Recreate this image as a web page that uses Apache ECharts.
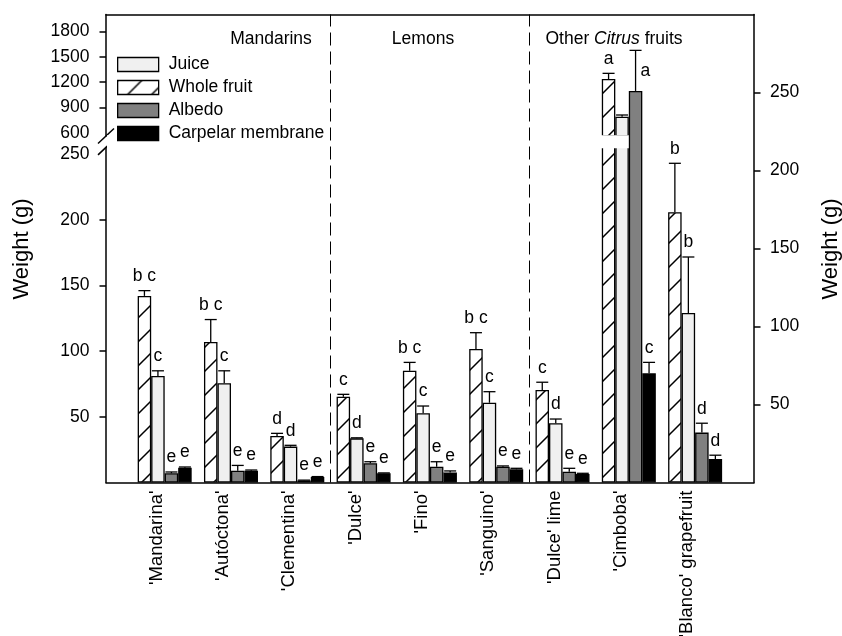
<!DOCTYPE html>
<html>
<head>
<meta charset="utf-8">
<script src="https://cdn.jsdelivr.net/npm/echarts@6/dist/echarts.min.js"></script>
<style>
  html, body { margin: 0; padding: 0; background: #fff; }
  #chart { width: 842px; height: 636px; }
</style>
</head>
<body>
<div id="chart"></div>
<script>
// ---- data ---------------------------------------------------------------
const categories = ["'Mandarina'", "'Autóctona'", "'Clementina'", "'Dulce'", "'Fino'",
  "'Sanguino'", "'Dulce' lime", "'Cimboba'", "'Blanco' grapefruit"];
const groupNames = ['Mandarins', 'Lemons', 'Other Citrus fruits'];
const groupStarts = [0, 3, 6];

const wholeFruit    = [142, 107, 35.4, 65.3, 85, 101.6, 70.4, 1238, 205.6];
const wholeFruitErr = [4, 17, 2, 1.8, 6.4, 12.4, 5.9, 67, 37.3];
const wholeFruitLetters = ['b c', 'b c', 'd', 'c', 'b c', 'b c', 'c', 'a', 'b'];

const juice    = [81, 75.5, 27.3, 33.6, 52.7, 60.7, 45.1, 793, 129];
const juiceErr = [4, 9.5, 1, 0.4, 5.5, 8.4, 3.2, 20, 42.6];
const juiceLetters = ['c', 'c', 'd', 'd', 'c', 'c', 'd', '', 'b'];

const albedo    = [7, 9, 1.5, 14.6, 12, 12, 6.9, 251, 32];
const albedoErr = [1, 4, 0.3, 1.2, 3.8, 0.6, 2.2, 26, 6];
const albedoLetters = ['e', 'e', 'e', 'e', 'e', 'e', 'e', 'a', 'd'];

const membrane    = [11.3, 9, 4.2, 7, 7.7, 10, 5.4, 70, 15];
const membraneErr = [0.5, 0.5, 0.3, 0.3, 1.1, 0.8, 0.5, 7, 2.5];
const membraneLetters = ['e', 'e', 'e', 'e', 'e', 'e', 'e', 'c', 'd'];

// which y scale each value belongs to: L = left (broken) axis, R = right axis
const wholeFruitScale = ['L', 'L', 'L', 'L', 'L', 'L', 'L', 'L', 'L'];
const juiceScale      = ['L', 'L', 'L', 'L', 'L', 'L', 'L', 'L', 'L'];
const albedoScale     = ['L', 'L', 'L', 'L', 'L', 'L', 'R', 'R', 'R'];
const membraneScale   = ['L', 'L', 'L', 'L', 'L', 'L', 'R', 'R', 'R'];

// letters printed beside the whisker instead of above it
const albedoLetterBeside = [7];

const leftLowerLabels = [50, 100, 150, 200, 250];
const leftLowerTicks  = [50, 100, 150, 200];
const leftUpperLabels = [600, 900, 1200, 1500, 1800];
const leftUpperTicks  = [900, 1200, 1500, 1800];
const rightLabels     = [50, 100, 150, 200, 250];

// ---- layout -------------------------------------------------------------
const FONT = 'Liberation Sans, Arial, Helvetica, sans-serif';
const FS = 17.5;
const BAR_W = 13.5;
const CAP_W = 12;
const X_MIN = -0.885, X_MAX = 8.888;
const LOWER_MAX = 255, UPPER_MIN = 565, UPPER_MAX = 2000, RIGHT_MAX = 300;

const CHART_W = 842, CHART_H = 636;
const PLOT_L = 106, PLOT_R = 754, PLOT_T = 14.5, PLOT_B = 482.5;
const LOWER_TOP = 147.4, UPPER_BOTTOM = 136;

function hatchCanvas() {
  const P = 24;
  const c = document.createElement('canvas');
  c.width = P; c.height = P;
  const g = c.getContext('2d');
  g.fillStyle = '#fff';
  g.fillRect(0, 0, P, P);
  g.strokeStyle = '#000';
  g.lineWidth = 1.5;
  g.beginPath();
  g.moveTo(-2, P + 2); g.lineTo(P + 2, -2);
  g.moveTo(-2, 2); g.lineTo(2, -2);
  g.moveTo(P - 2, P + 2); g.lineTo(P + 2, P - 2);
  g.stroke();
  return c;
}

const measures = [
  { name: 'Whole fruit', values: wholeFruit, err: wholeFruitErr, letters: wholeFruitLetters,
    scale: wholeFruitScale, beside: [], fill: { image: hatchCanvas(), repeat: 'repeat' } },
  { name: 'Juice', values: juice, err: juiceErr, letters: juiceLetters,
    scale: juiceScale, beside: [], fill: '#f0f0f0' },
  { name: 'Albedo', values: albedo, err: albedoErr, letters: albedoLetters,
    scale: albedoScale, beside: albedoLetterBeside, fill: '#808080' },
  { name: 'Carpelar membrane', values: membrane, err: membraneErr, letters: membraneLetters,
    scale: membraneScale, beside: [], fill: '#000' }
];

// three panels: lower left segment, upper left segment, full-height right scale
// (right-scale bars sit above the break band, left-scale bars below it)
const panels = [
  { side: 'L', z: 2, keepBar: v => true,          keepErr: v => v <= LOWER_MAX },
  { side: 'L', z: 2, keepBar: v => v > UPPER_MIN, keepErr: v => v > UPPER_MIN },
  { side: 'R', z: 4, keepBar: v => true,          keepErr: v => true }
];

const axisLine = { show: true, onZero: false, lineStyle: { color: '#000', width: 1.5 } };
const labelStyle = { color: '#000', fontSize: FS, fontFamily: FONT };
const plainNumber = v => String(v);

const series = [];
panels.forEach((p, gi) => {
  measures.forEach(m => {
    const data = [];
    m.values.forEach((v, i) => {
      if (m.scale[i] === p.side && p.keepBar(v)) data.push([i, v]);
    });
    series.push({
      type: 'bar', name: m.name, xAxisIndex: gi, yAxisIndex: gi, z: p.z,
      data: data, barWidth: BAR_W, barGap: '0%', clip: true,
      itemStyle: { color: m.fill, borderColor: '#000', borderWidth: 1.3 },
      emphasis: { disabled: true }, silent: true
    });
  });

  const items = [];
  measures.forEach((m, k) => {
    m.values.forEach((v, i) => {
      if (m.scale[i] === p.side && p.keepErr(v)) {
        items.push({ k: k, i: i, v: v, e: m.err[i], letter: m.letters[i],
          beside: m.beside.indexOf(i) >= 0 });
      }
    });
  });
  const errSeries = {
    type: 'custom', xAxisIndex: gi, yAxisIndex: gi, silent: true, clip: false, z: 5,
    data: items.map(d => [d.i, d.v, d.e, d.k]),
    encode: { x: 0, y: 1 },
    renderItem: function (params, api) {
      const d = items[params.dataIndex];
      const base = api.coord([d.i, d.v]);
      const top = api.coord([d.i, d.v + d.e]);
      const x = base[0] + (d.k - 1.5) * BAR_W;
      const ls = { stroke: '#000', lineWidth: 1.3 };
      const children = [
        { type: 'line', shape: { x1: x, y1: base[1], x2: x, y2: top[1] }, style: ls },
        { type: 'line', shape: { x1: x - CAP_W / 2, y1: top[1], x2: x + CAP_W / 2, y2: top[1] }, style: ls }
      ];
      if (d.letter) {
        if (d.beside) {
          children.push({ type: 'text', x: x + 5, y: top[1] + 21,
            style: { text: d.letter, fill: '#000', fontSize: FS, fontFamily: FONT,
              align: 'left', verticalAlign: 'middle' } });
        } else {
          children.push({ type: 'text', x: x, y: top[1] - 5.5,
            style: { text: d.letter, fill: '#000', fontSize: FS, fontFamily: FONT,
              align: 'center', verticalAlign: 'bottom' } });
        }
      }
      return { type: 'group', children: children };
    }
  };
  if (gi === 2) {
    // dashed dividers between the fruit groups
    errSeries.markLine = {
      silent: true, symbol: 'none', label: { show: false }, z: 6,
      lineStyle: { color: '#000', width: 1, type: [13, 6] },
      data: groupStarts.slice(1).map(s => ({ xAxis: s - 0.5 }))
    };
  }
  series.push(errSeries);
});

const option = {
  animation: false,
  backgroundColor: '#fff',
  textStyle: { fontFamily: FONT },
  grid: [
    { left: PLOT_L, right: CHART_W - PLOT_R, top: LOWER_TOP, bottom: CHART_H - PLOT_B,
      outerBoundsMode: 'none', containLabel: false },
    { left: PLOT_L, right: CHART_W - PLOT_R, top: PLOT_T, height: UPPER_BOTTOM - PLOT_T,
      outerBoundsMode: 'none', containLabel: false },
    { left: PLOT_L, right: CHART_W - PLOT_R, top: PLOT_T, bottom: CHART_H - PLOT_B,
      outerBoundsMode: 'none', containLabel: false }
  ],
  xAxis: [
    { gridIndex: 0, type: 'value', min: X_MIN, max: X_MAX, position: 'bottom',
      axisLine: axisLine, axisTick: { show: false }, splitLine: { show: false },
      axisLabel: { customValues: categories.map((_, i) => i),
        formatter: v => '{c|' + categories[Math.round(v)] + '}', rotate: 90, margin: 8,
        rich: { c: { color: '#000', fontSize: 18.5, fontFamily: FONT, padding: [0, 0, 16, 0] } } } },
    { gridIndex: 1, type: 'value', min: X_MIN, max: X_MAX, position: 'top',
      axisLine: axisLine, axisTick: { show: false }, splitLine: { show: false },
      axisLabel: { show: false } },
    { gridIndex: 2, type: 'value', min: X_MIN, max: X_MAX, show: false, splitLine: { show: false } }
  ],
  yAxis: [
    { gridIndex: 0, type: 'value', min: 0, max: LOWER_MAX, position: 'left',
      axisLine: axisLine, splitLine: { show: false },
      axisTick: { show: true, customValues: leftLowerTicks, length: 6.5, lineStyle: { color: '#000', width: 1.5 } },
      axisLabel: Object.assign({ customValues: leftLowerLabels, margin: 16.5, formatter: plainNumber }, labelStyle) },
    { gridIndex: 1, type: 'value', min: UPPER_MIN, max: UPPER_MAX, position: 'left',
      axisLine: axisLine, splitLine: { show: false },
      axisTick: { show: true, customValues: leftUpperTicks, length: 6.5, lineStyle: { color: '#000', width: 1.5 } },
      axisLabel: Object.assign({ customValues: leftUpperLabels, margin: 16.5, formatter: plainNumber }, labelStyle) },
    { gridIndex: 2, type: 'value', min: 0, max: RIGHT_MAX, position: 'right',
      axisLine: axisLine, splitLine: { show: false },
      axisTick: { show: true, customValues: rightLabels, length: 6.5, lineStyle: { color: '#000', width: 1.5 } },
      axisLabel: Object.assign({ customValues: rightLabels, margin: 16, formatter: plainNumber }, labelStyle) }
  ],
  legend: {
    orient: 'vertical', left: 117, top: 55.5, padding: 0, z: 6,
    itemWidth: 41, itemHeight: 14, itemGap: 5,
    icon: 'rect', selectedMode: false,
    data: ['Juice', 'Whole fruit', 'Albedo', 'Carpelar membrane'],
    itemStyle: { borderColor: '#000', borderWidth: 1.3 },
    textStyle: { color: '#000', fontSize: FS, fontFamily: FONT, lineHeight: 14, padding: [0, 0, 0, 5] }
  },
  graphic: [
    // white band of the axis break, cutting across the tall left-scale bars
    { type: 'rect', z: 3, silent: true,
      shape: { x: PLOT_L + 1, y: UPPER_BOTTOM - 0.8, width: PLOT_R - PLOT_L - 2, height: LOWER_TOP - UPPER_BOTTOM + 1.6 },
      style: { fill: '#fff' } },
    // break marks on the left axis
    { type: 'line', shape: { x1: PLOT_L - 8, y1: UPPER_BOTTOM + 7.5, x2: PLOT_L + 8, y2: UPPER_BOTTOM - 7.5 },
      style: { stroke: '#000', lineWidth: 1.5 } },
    { type: 'line', shape: { x1: PLOT_L - 8, y1: LOWER_TOP + 7.5, x2: PLOT_L + 8, y2: LOWER_TOP - 7.5 },
      style: { stroke: '#000', lineWidth: 1.5 } },
    { type: 'text', x: 271, y: 39, style: { text: groupNames[0], fill: '#000', fontSize: FS, fontFamily: FONT, align: 'center', verticalAlign: 'middle' } },
    { type: 'text', x: 423, y: 39, style: { text: groupNames[1], fill: '#000', fontSize: FS, fontFamily: FONT, align: 'center', verticalAlign: 'middle' } },
    { type: 'text', x: 614, y: 39, style: {
        text: '{n|Other }{i|Citrus}{n| fruits}', fill: '#000', align: 'center', verticalAlign: 'middle',
        rich: { n: { fontSize: FS, fontFamily: FONT, fill: '#000' },
                i: { fontSize: FS, fontFamily: FONT, fontStyle: 'italic', fill: '#000' } } } },
    { type: 'text', x: 22, y: 249, rotation: Math.PI / 2, style: { text: 'Weight (g)', fill: '#000', fontSize: 22, fontFamily: FONT, align: 'center', verticalAlign: 'middle' } },
    { type: 'text', x: 831, y: 249, rotation: Math.PI / 2, style: { text: 'Weight (g)', fill: '#000', fontSize: 22, fontFamily: FONT, align: 'center', verticalAlign: 'middle' } }
  ],
  series: series
};

const chart = echarts.init(document.getElementById('chart'), null, { renderer: 'canvas' });
chart.setOption(option);
</script>
</body>
</html>
